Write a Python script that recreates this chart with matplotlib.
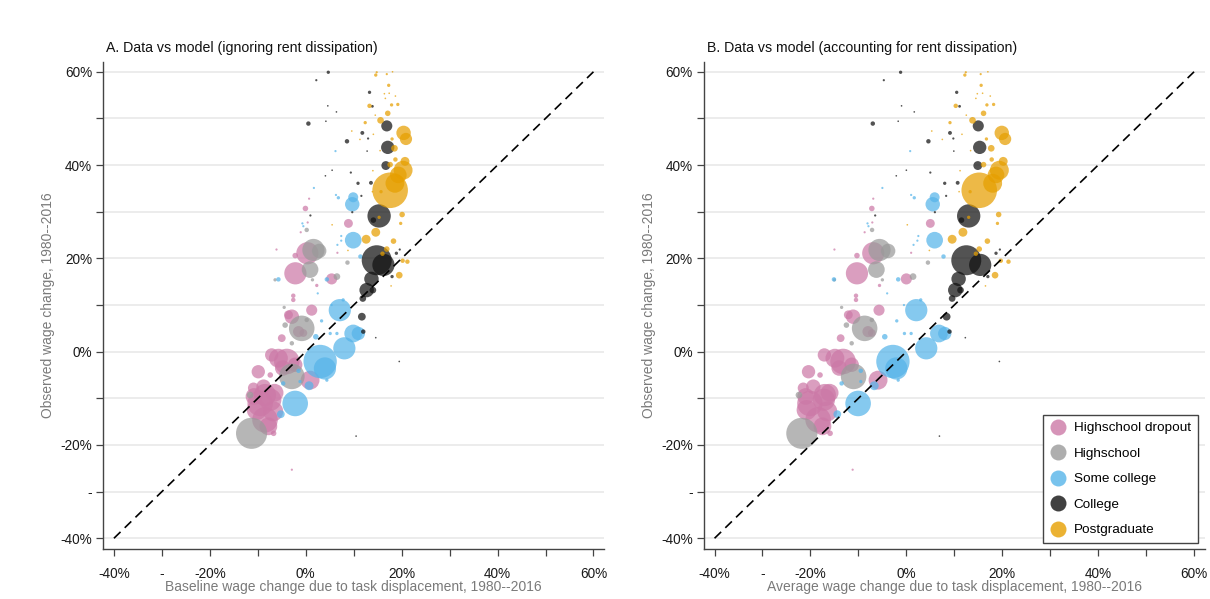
import matplotlib
matplotlib.use("Agg")
import matplotlib.pyplot as plt
from matplotlib.lines import Line2D
import numpy as np

plt.rcParams['font.family'] = ['Liberation Sans', 'DejaVu Sans']

# ---------------- data (percent) ----------------
# Highschool dropout
hd_y  = [30.7, 32.8, 27.7, 25.6, 21.1, 16.8, 20.6, 15.6, 27.5, 14.2, 12.0, 11.1, 8.9, 7.9, 21.9, 21.2,
         7.5, 4.3, 4.0, 2.9, -0.7, -2.1, -1.4, -2.8, -4.3, -6.1, -5.0, -7.5, -9.3, -11.1, -10.3, -14.6,
         -17.5, -7.8, -25.3, -12.5, -8.8, -3.5, -9.6, -12.8, -16.0]
hd_xa = [-0.07, 0.7, 0.4, -1.05, 0.34, -2.16, -2.2, 5.4, 8.9, 2.3, -2.6, -2.6, 1.24, -3.6, -6.1, 6.6,
         -2.9, -1.5, -0.5, -5.0, -7.1, -3.96, -5.7, -2.2, -9.9, 0.9, -7.4, -8.8, -8.5, -9.5, -7.4, -8.5,
         -6.7, -10.9, -2.9, -10.2, -6.5, -4.8, -10.8, -6.8, -7.8]
hd_xb = [-7.2, -6.9, -7.1, -8.7, -6.9, -10.3, -10.3, 0.0, 5.0, -5.6, -10.5, -10.5, -5.7, -12.1, -15.0, 1.0,
         -11.1, -8.0, -7.2, -13.7, -17.1, -13.2, -14.9, -11.4, -20.4, -5.9, -18.0, -19.4, -17.0, -20.1, -17.2, -18.4,
         -15.9, -21.5, -11.2, -20.8, -16.0, -14.0, -21.0, -16.5, -17.5]
hd_d  = [5, 2, 2, 2, 20, 20, 5, 10, 8, 3, 4, 4, 10, 8, 2, 2,
         13, 10, 7, 7, 12, 23, 17, 13, 12, 17, 5, 13, 20, 23, 20, 23,
         5, 10, 2, 18, 16, 14, 15, 18, 16]

# Highschool
hs_y  = [21.8, 21.6, 17.6, 26.1, 19.1, 16.1, 9.5, 15.4, 15.4, 5.0, -5.3, -17.5, -9.3, 6.8, 1.8, 5.7]
hs_xa = [1.6, 2.8, 0.9, 0.2, 8.7, 6.5, -4.5, -6.4, 1.4, -0.84, -2.9, -11.3, -11.6, 0.2, -2.9, -4.3]
hs_xb = [-5.6, -3.8, -6.25, -7.15, 4.5, 1.4, -13.5, -15.0, -5.0, -8.7, -11.0, -21.8, -22.4, -7.2, -11.4, -12.5]
hs_d  = [20, 13, 15, 4, 4, 6, 3, 3, 3, 23, 23, 28, 6, 4, 4, 5]

# Some college
sc_y  = [31.6, 33.1, 23.9, 20.4, 33.0, 33.6, 35.1, 43.0, 27.5, 26.9, 24.8, 22.9, 23.8, 15.5, 15.5, 11.1,
         12.5, 10.0, 8.9, 3.9, 3.9, 0.72, -2.1, -3.6, -11.1, -13.4, -7.3, 6.6, 3.2, -6.4, 3.9, 3.9,
         -6.1, -6.8, -4.1]
sc_xa = [9.7, 9.9, 9.9, 11.4, 6.8, 6.3, 1.7, 6.2, -0.7, -0.5, 7.4, 6.6, 7.4, -5.7, 4.4, 7.8,
         2.5, 5.4, 7.1, 9.9, 10.97, 8.05, 3.0, 4.0, -2.2, -5.2, 0.69, 3.3, 2.1, -1.2, 5.1, 6.5,
         4.4, -4.7, -1.5]
sc_xb = [5.5, 5.9, 5.9, 7.75, 1.65, 1.0, -5.0, 0.8, -8.1, -7.9, 2.5, 1.5, 2.3, -15.1, -1.7, 3.0,
         -4.0, -0.5, 2.07, 6.8, 8.0, 4.15, -2.8, -2.1, -10.06, -14.4, -6.7, -2.0, -4.5, -9.5, -0.4, 1.0,
         -1.7, -13.5, -9.5]
sc_d  = [13, 9, 15, 4, 3, 2, 2, 2, 2, 2, 2, 2, 2, 4, 4, 3,
         2, 2, 20, 16, 12, 20, 30, 20, 23, 7, 8, 3, 5, 3, 3, 3,
         3, 4, 4]

# College
co_y  = [59.9, 58.2, 48.9, 52.7, 51.4, 49.4, 45.1, 55.6, 52.6, 46.9, 45.7, 43.0, 48.4, 43.8, 39.9, 38.4,
         38.9, 37.7, 36.1, 36.2, 33.4, 29.9, 29.2, 29.1, 28.2, 19.6, 18.6, 15.6, 13.2, 11.4, 7.5, 4.3,
         3.0, -2.1, -18.1, 21.1, 21.9, 13.2, 16.1]
co_xa = [4.7, 2.2, 0.55, 4.6, 6.4, 4.2, 8.6, 13.3, 13.9, 11.8, 13.0, 12.8, 16.9, 17.1, 16.7, 9.4,
         5.5, 4.1, 10.9, 13.6, 11.6, 9.7, 0.97, 15.3, 14.1, 14.8, 16.2, 13.7, 12.7, 11.9, 11.7, 12.0,
         14.6, 19.5, 10.5, 18.9, 19.6, 14.0, 18.0]
co_xb = [-1.2, -4.7, -7.0, -1.0, 1.65, -1.7, 4.6, 10.5, 11.1, 9.1, 9.8, 9.9, 15.0, 15.3, 14.9, 5.0,
         0.0, -2.1, 8.0, 10.7, 8.3, 5.95, -6.5, 13.0, 11.5, 12.5, 15.4, 10.9, 10.2, 9.55, 8.4, 9.0,
         12.3, 19.4, 6.9, 18.7, 19.5, 11.3, 17.0]
co_d  = [3, 2, 4, 1.5, 1.5, 1.5, 4, 3, 2.5, 3.5, 2, 1.5, 10, 12, 8, 2,
         1.5, 1.5, 3, 3.5, 2, 2, 2, 21, 5, 27, 20, 13, 13, 6, 7, 4,
         1.5, 1.5, 1.5, 3, 2, 6, 3]

# Postgraduate
pg_y  = [59.3, 59.9, 59.5, 60.0, 57.1, 55.3, 55.4, 54.8, 52.7, 54.3, 52.9, 53.0, 51.1, 50.7, 49.6, 49.1,
         46.9, 45.6, 45.6, 43.6, 47.3, 45.5, 46.6, 43.1, 41.2, 40.8, 40.1, 38.9, 37.9, 36.1, 34.6, 38.8,
         34.3, 34.3, 29.4, 27.5, 25.6, 24.1, 23.7, 22.0, 19.3, 19.5, 16.4, 14.1, 27.2, 21.7, 28.8, 21.0]
pg_xa = [14.6, 14.8, 16.9, 18.1, 17.3, 16.4, 17.4, 18.7, 13.3, 16.6, 17.9, 19.2, 17.1, 14.5, 15.6, 12.4,
         20.4, 20.9, 18.0, 18.5, 9.6, 11.3, 14.1, 15.5, 18.7, 20.7, 17.6, 20.3, 19.3, 18.6, 17.6, 14.0,
         13.9, 15.7, 20.1, 19.8, 14.6, 12.6, 18.3, 16.9, 21.2, 20.2, 19.5, 17.8, 5.5, 8.8, 15.3, 16.0]
pg_xb = [12.2, 12.4, 15.5, 17.0, 15.6, 14.8, 15.9, 17.5, 10.3, 14.5, 16.8, 18.2, 16.1, 12.5, 13.8, 9.1,
         19.9, 20.6, 16.7, 17.7, 5.3, 7.5, 11.6, 13.4, 17.8, 20.2, 16.1, 19.4, 18.7, 18.0, 15.2, 11.2,
         11.0, 13.3, 19.25, 19.0, 11.8, 9.55, 16.9, 15.2, 21.3, 19.7, 18.5, 16.5, 0.2, 4.8, 13.0, 14.5]
pg_d  = [3, 2, 2, 1.5, 3, 1.5, 1.5, 1.5, 4, 1.5, 3, 3, 5, 1.5, 6, 3,
         13, 11, 3, 6, 1.5, 1.5, 1.5, 1.5, 4, 8, 5, 17, 15, 17, 32, 1.5,
         1.5, 3, 5, 3, 8, 8, 5, 5, 4, 4, 6, 1.5, 1.5, 1.5, 3, 4]

groups = ["Highschool dropout", "Highschool", "Some college", "College", "Postgraduate"]
colors = ["#CC79A7", "#9A9A9A", "#56B4E9", "#111111", "#E69F00"]
ys  = [hd_y, hs_y, sc_y, co_y, pg_y]
xas = [hd_xa, hs_xa, sc_xa, co_xa, pg_xa]
xbs = [hd_xb, hs_xb, sc_xb, co_xb, pg_xb]
ds  = [hd_d, hs_d, sc_d, co_d, pg_d]

x_ticks = [-40, -30, -20, -10, 0, 10, 20, 30, 40, 50, 60]
x_tick_labels = ["-40%", "-", "-20%", "", "0%", "", "20%", "", "40%", "", "60%"]
y_ticks = [-40, -30, -20, -10, 0, 10, 20, 30, 40, 50, 60]
y_tick_labels = ["-40%", "-", "-20%", "", "0%", "", "20%", "", "40%", "", "60%"]

titles = ["A. Data vs model (ignoring rent dissipation)",
          "B. Data vs model (accounting for rent dissipation)"]
xlabels = ["Baseline wage change due to task displacement, 1980--2016",
           "Average wage change due to task displacement, 1980--2016"]
ylabel = "Observed wage change, 1980--2016"

# ---------------- figure ----------------
fig = plt.figure(figsize=(12.1, 5.99), dpi=100)
axA = fig.add_axes([103.4/1210, 1-549/599, 500.6/1210, 487/599])
axB = fig.add_axes([704/1210, 1-549/599, 500.6/1210, 487/599])

px = 0.8  # px -> points at 100 dpi (slightly enlarged)
for k, ax in enumerate([axA, axB]):
    xs_all = xas if k == 0 else xbs
    for g in range(5):
        s = (np.array(ds[g]) * px) ** 2
        ax.scatter(xs_all[g], ys[g], s=s, color=colors[g], alpha=0.72,
                   edgecolors='none', zorder=3)
    ax.plot([-40, 60], [-40, 60], color='black', lw=1.2,
            linestyle=(0, (5.5, 3.5)), zorder=5)
    ax.set_xlim(-42.2, 62.2)
    ax.set_ylim(-42.3, 62.1)
    ax.set_xticks(x_ticks)
    ax.set_xticklabels(x_tick_labels)
    ax.set_yticks(y_ticks)
    ax.set_yticklabels(y_tick_labels)
    for yv in y_ticks:
        ax.axhline(yv, color='#e9e9e9', lw=1.2, zorder=1)
    for side in ['top', 'right']:
        ax.spines[side].set_visible(False)
    for side in ['left', 'bottom']:
        ax.spines[side].set_color('#444444')
        ax.spines[side].set_linewidth(1.0)
    ax.tick_params(axis='both', length=5, width=0.9, color='#444444',
                   labelsize=9.8, labelcolor='#1a1a1a', pad=3)
    ax.tick_params(axis='x', pad=8)
    ax.set_title(titles[k], loc='left', fontsize=10.2, color='#111111', pad=7, x=0.005)
    ax.set_xlabel(xlabels[k], fontsize=10, color='#7a7a7a', labelpad=-1)
    ax.set_ylabel(ylabel, fontsize=10, color='#7a7a7a', labelpad=4)

handles = [Line2D([0], [0], marker='o', linestyle='none', markersize=11.5,
                  markerfacecolor=c, markeredgecolor='none', alpha=0.8) for c in colors]
leg = axB.legend(handles, groups, loc='lower right', bbox_to_anchor=(0.986, 0.012),
                 borderaxespad=0, fontsize=9.7, frameon=True, fancybox=False,
                 edgecolor='#444444', framealpha=1, labelspacing=0.97,
                 handletextpad=0.6, borderpad=0.5, handlelength=1.2)
leg.get_frame().set_linewidth(1.0)
leg.set_zorder(10)

fig.savefig("out.png", dpi=100)
